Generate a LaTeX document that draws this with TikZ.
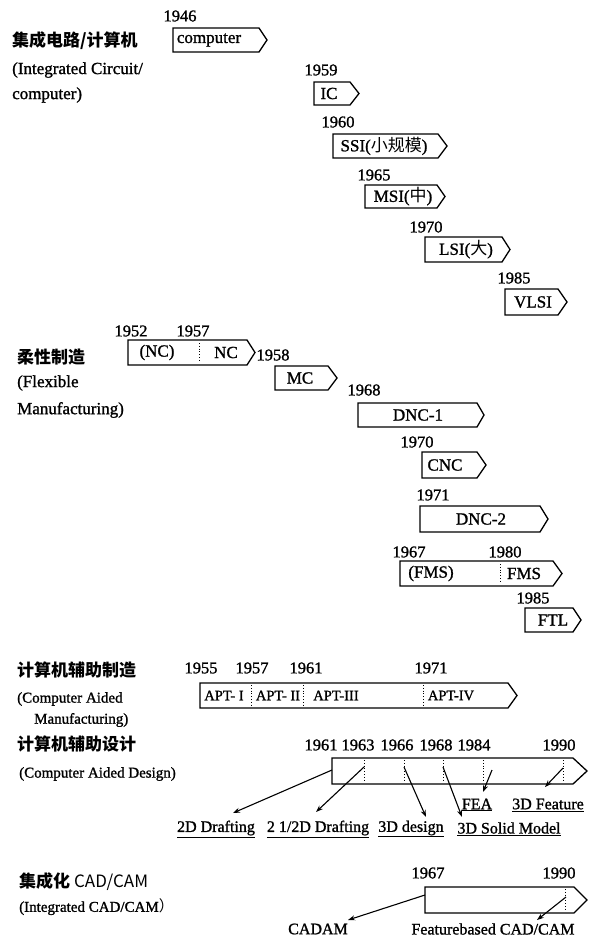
\documentclass[tikz,border=0pt]{standalone}
\usepackage{fontspec}
\setmainfont{Liberation Serif}[RawFeature={embolden=1.2}]
\newfontfamily\cjk{Noto Sans CJK SC}
\usetikzlibrary{arrows.meta,calc}
\tikzset{
  boxline/.style={line width=1.3pt},
  yr/.style={font=\fontsize{16.5}{16.5}\selectfont, inner sep=0pt},
  lbl/.style={font=\fontsize{17}{17}\selectfont, inner sep=0pt},
  ulbl/.style={font=\fontsize{16}{16}\selectfont, inner sep=0pt},
  slbl/.style={font=\fontsize{14.5}{14.5}\selectfont, inner sep=0pt},
  head/.style={font=\cjk\bfseries\fontsize{17}{17}\selectfont, inner sep=0pt, anchor=west},
  sub/.style={font=\fontsize{17}{17}\selectfont, inner sep=0pt, anchor=west},
  ssub/.style={font=\fontsize{15}{15}\selectfont, inner sep=0pt, anchor=west},
  divl/.style={dotted, line width=0.8pt},
  arr/.style={line width=1.1pt, -{Stealth[length=7pt,width=5pt]}},
}
% name, x1, y1, x2, y2, tip x
\newcommand\tlbox[6]{%
  \node[inner sep=0pt, outer sep=0pt, minimum width={(#4)-(#2)}, minimum height={(#5)-(#3)}, anchor=north west] (#1) at (#2,#3) {};
  \draw[boxline] (#1.north west) -- (#1.north east) -- (#6,{((#3)+(#5))/2}) -- (#1.south east) -- (#1.south west) -- cycle;}
\begin{document}
\begin{tikzpicture}[x=1pt,y=-1pt]
\useasboundingbox (0,0) rectangle (592,939);

% ---------- Integrated circuit / computer ----------
\node[head] (h1a) at (12,41) {集成电路/计算机};
\node[sub] (h1b) at (12,70) {(Integrated Circuit/};
\node[sub] (h1c) at (12,95) {computer)};

\node[yr] (y1946) at (180,16) {1946};
\tlbox{comp}{173}{28}{259}{52}{267}
\node[lbl] (compl) at (209,40) {computer};

\node[yr] (y1959) at (321,70) {1959};
\tlbox{ic}{314}{82}{350}{105}{359}
\node[lbl] (icl) at (329,93.5) {IC};

\node[yr] (y1960) at (338,122) {1960};
\tlbox{ssi}{333}{134}{438}{158}{447}
\node[lbl] (ssil) at (384,146) {SSI({\cjk 小规模})};

\node[yr] (y1965) at (374,175) {1965};
\tlbox{msi}{365}{185}{437}{208}{445}
\node[lbl] (msil) at (403,196.5) {MSI({\cjk 中})};

\node[yr] (y1970a) at (426,227) {1970};
\tlbox{lsi}{425}{237}{502}{262}{510}
\node[lbl] (lsil) at (466,249.5) {LSI({\cjk 大})};

\node[yr] (y1985a) at (514,278) {1985};
\tlbox{vlsi}{505}{289}{558}{315}{567}
\node[lbl] (vlsil) at (533,302) {VLSI};

% ---------- Flexible manufacturing ----------
\node[head] (h2a) at (17,357) {柔性制造};
\node[sub] (h2b) at (17,383) {(Flexible};
\node[sub] (h2c) at (17,410) {Manufacturing)};

\node[yr] (y1952) at (131,331) {1952};
\node[yr] (y1957a) at (193,331) {1957};
\tlbox{nc}{128}{340}{247}{365}{255}
\draw[divl] (199,343) -- (199,362);
\node[lbl] (ncl1) at (157,352.5) {(NC)};
\node[lbl] (ncl2) at (226,352.5) {NC};

\node[yr] (y1958) at (273,355) {1958};
\tlbox{mc}{275}{366}{328}{390}{337}
\node[lbl] (mcl) at (300,378) {MC};

\node[yr] (y1968a) at (364,390) {1968};
\tlbox{dnc1}{358}{403}{477}{427}{484}
\node[lbl] (dnc1l) at (418,415) {DNC-1};

\node[yr] (y1970b) at (417,442) {1970};
\tlbox{cnc}{422}{452}{477}{478}{486}
\node[lbl] (cncl) at (445,465) {CNC};

\node[yr] (y1971a) at (433,495) {1971};
\tlbox{dnc2}{420}{506}{540}{532}{548}
\node[lbl] (dnc2l) at (481,519) {DNC-2};

\node[yr] (y1967a) at (409,552) {1967};
\node[yr] (y1980) at (505,552) {1980};
\tlbox{fms}{400}{561}{553}{586}{562}
\draw[divl] (500,564) -- (500,583);
\node[lbl] (fmsl1) at (431,573.5) {(FMS)};
\node[lbl] (fmsl2) at (524,573.5) {FMS};

\node[yr] (y1985b) at (533,598) {1985};
\tlbox{ftl}{525}{608}{573}{632}{581}
\node[lbl] (ftll) at (553,620) {FTL};

% ---------- Computer aided manufacturing ----------
\node[head] (h3a) at (17,670) {计算机辅助制造};
\node[ssub] (h3b) at (17,699) {(Computer Aided};
\node[ssub] (h3c) at (34,720) {Manufacturing)};

\node[yr] (y1955) at (201,668) {1955};
\node[yr] (y1957b) at (252,668) {1957};
\node[yr] (y1961a) at (306,668) {1961};
\node[yr] (y1971b) at (431,668) {1971};
\tlbox{apt}{200}{683}{508}{708}{517}
\draw[divl] (251,685) -- (251,706);
\draw[divl] (303,685) -- (303,706);
\draw[divl] (423,685) -- (423,706);
\node[slbl] (apt1) at (224,695.5) {APT- I};
\node[slbl] (apt2) at (278,695.5) {APT- II};
\node[slbl] (apt3) at (336,695.5) {APT-III};
\node[slbl] (apt4) at (451,695.5) {APT-IV};

% ---------- Computer aided design ----------
\node[head] (h4a) at (17,744) {计算机辅助设计};
\node[ssub] (h4b) at (19,774) {(Computer Aided Design)};

\node[yr] (y1961b) at (321,745) {1961};
\node[yr] (y1963) at (358,745) {1963};
\node[yr] (y1966) at (397,745) {1966};
\node[yr] (y1968b) at (436,745) {1968};
\node[yr] (y1984) at (474,745) {1984};
\node[yr] (y1990a) at (559,745) {1990};
\tlbox{cad}{332}{758}{573}{784}{587}
\foreach \x in {364,404,443,483,563} \draw[divl] (\x,760) -- (\x,782);

\node[ulbl] (d2d) at (216,829) {\underline{2D Drafting}};
\node[ulbl] (d25d) at (318,829) {\underline{2 1/2D Drafting}};
\node[ulbl] (d3d) at (411,829) {\underline{3D design}};
\node[ulbl] (d3s) at (509,829) {\underline{3D Solid Model}};
\node[ulbl] (dfea) at (477,805) {\underline{FEA}};
\node[ulbl] (d3f) at (548,805) {\underline{3D Feature}};

\coordinate (c1) at (332,770);
\coordinate (c2) at (364,767);
\coordinate (c3) at (404,767);
\coordinate (c4) at (443,767);
\coordinate (c5) at (492,770);
\coordinate (c6) at (563,768);
\coordinate (e1) at (233,813);
\coordinate (e2) at (316,812);
\coordinate (e3) at (426,817);
\coordinate (e4) at (462,817);
\coordinate (e5) at (483,792);
\coordinate (e6) at (545,787);
\draw[arr] (c1) -- (e1);
\draw[arr] (c2) -- (e2);
\draw[arr] (c3) -- (e3);
\draw[arr] (c4) -- (e4);
\draw[arr] (c5) -- (e5);
\draw[arr] (c6) -- (e6);

% ---------- Integrated CAD/CAM ----------
\node[head] (h5a) at (19,882) {集成化 {\mdseries CAD/CAM}};
\node[ssub] (h5b) at (19,907) {(Integrated CAD/CAM{\cjk ）}};

\node[yr] (y1967b) at (428,873) {1967};
\node[yr] (y1990b) at (559,873) {1990};
\tlbox{icc}{425}{887}{574}{913}{587}
\draw[divl] (565,889) -- (565,911);

\node[ulbl] (cadam) at (318,929) {CADAM};
\node[ulbl] (fbc) at (493,929) {Featurebased CAD/CAM};
\coordinate (f1) at (425,895);
\coordinate (f2) at (566,897);
\coordinate (g1) at (348,920);
\coordinate (g2) at (537,920);
\draw[arr] (f1) -- (g1);
\draw[arr] (f2) -- (g2);
\end{tikzpicture}
\end{document}
